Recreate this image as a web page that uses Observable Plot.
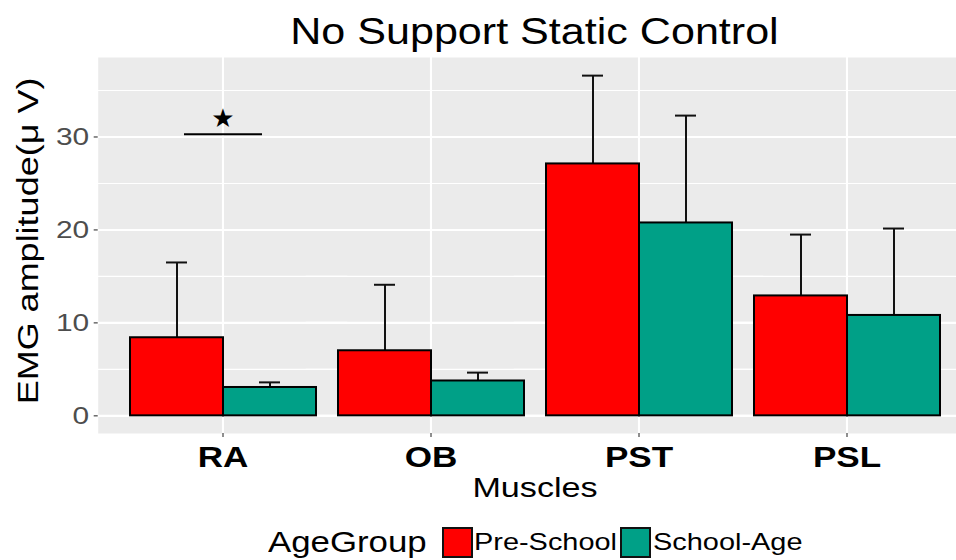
<!DOCTYPE html>
<html>
<head>
<meta charset="utf-8">
<script src="https://cdn.jsdelivr.net/npm/d3@7"></script>
<script src="https://cdn.jsdelivr.net/npm/@observablehq/plot@0.6"></script>
<style>
  body { margin: 0; background: #fff; font-family: "Liberation Sans", Arial, sans-serif; }
  #wrap { width: 956px; height: 560px; overflow: hidden; position: relative; background: #fff; }
  #title { height: 57px; box-sizing: border-box; padding-top: 13.4px; margin-left: 97px; width: 875px;
           text-align: center; font-size: 37.3px; line-height: 37.3px; color: #000; white-space: nowrap; }
  #title span { display: inline-block; transform: scaleX(1.155); transform-origin: center; }
  #chart svg { display: block; }
  #legend { height: 43px; box-sizing: border-box; padding-top: 9.7px; padding-left: 268.3px; }
  #legend .row { display: flex; align-items: center; height: 31px; white-space: nowrap; color: #000; }
  #legend .ttl { font-size: 30px; line-height: 30px; display: inline-block; }
  #legend .lab { font-size: 24.5px; line-height: 24.5px; display: inline-block; }
  #legend .key { width: 31px; height: 31px; box-sizing: border-box; border: 2px solid #111; flex: none; }
</style>
</head>
<body>
<div id="wrap">
  <div id="title"><span id="titleText"></span></div>
  <div id="chart"></div>
  <div id="legend"><div class="row" id="legendRow"></div></div>
</div>
<script>
// ---- data ----
const muscles = ["RA", "OB", "PST", "PSL"];
const ageGroups = ["Pre-School", "School-Age"];
const preSchoolMean = [8.4, 7.0, 27.1, 12.9];
const preSchoolUpper = [16.5, 14.1, 36.6, 19.5];
const schoolAgeMean = [3.05, 3.75, 20.75, 10.8];
const schoolAgeUpper = [3.6, 4.65, 32.3, 20.15];
const groupColors = ["#FF0000", "#00A087"];
const yTicks = [0, 10, 20, 30];
const yMinorTicks = [5, 15, 25, 35];
const sigMuscles = ["RA"];
const sigLineValues = [30.3];
const sigStarValues = [32];
const sigSymbol = "★";
const titleText = "No Support Static Control";
const xLabel = "Muscles";
const yLabel = "EMG amplitude(μ V)";
const legendTitle = "AgeGroup";

// ---- tables built from arrays ----
const rows = [];
muscles.forEach((m, i) => {
  rows.push({Muscle: m, AgeGroup: ageGroups[0], mean: preSchoolMean[i], upper: preSchoolUpper[i]});
  rows.push({Muscle: m, AgeGroup: ageGroups[1], mean: schoolAgeMean[i], upper: schoolAgeUpper[i]});
});
const sig = sigMuscles.map((m, i) => ({Muscle: m, from: ageGroups[0], to: ageGroups[1], lineY: sigLineValues[i], starY: sigStarValues[i]}));

document.getElementById("titleText").textContent = titleText;

// the panel extends past the outer facets by the fx outer padding
const panelExtend = -31.3;

const chart = Plot.plot({
  width: 976,
  height: 460,
  marginLeft: 97,
  marginRight: 4.3,
  marginTop: 0,
  marginBottom: 84,
  style: {maxWidth: "none", fontFamily: "'Liberation Sans', Arial, sans-serif", background: "transparent"},
  fx: {domain: muscles, paddingInner: 0.1, paddingOuter: 0.15, label: null},
  x: {domain: ageGroups, padding: 0, axis: null},
  y: {domain: [-1.9, 38.55], axis: null},
  color: {domain: ageGroups, range: groupColors},
  marks: [
    Plot.frame({facet: "super", fill: "#EBEBEB", insetLeft: panelExtend, insetRight: panelExtend}),
    Plot.ruleY(yMinorTicks, {stroke: "white", strokeWidth: 1.1, insetLeft: panelExtend, insetRight: panelExtend}),
    Plot.ruleY(yTicks, {stroke: "white", strokeWidth: 2.1, insetLeft: panelExtend, insetRight: panelExtend}),
    Plot.gridFx({stroke: "white", strokeOpacity: 1, strokeWidth: 2.1}),
    Plot.axisY(yTicks, {dx: panelExtend, tickSize: 4, tickPadding: 5, fontSize: 24.5, fill: "#4D4D4D", stroke: "#333333", strokeWidth: 1.1, label: null}),
    Plot.axisFx({anchor: "bottom", tickSize: 4, tickPadding: 8, fontSize: 30, fontWeight: "bold", fill: "#000", stroke: "#333333", strokeWidth: 1.1, label: null}),
    Plot.ruleX(rows, {fx: "Muscle", x: "AgeGroup", y1: "mean", y2: "upper", stroke: "#111", strokeWidth: 2}),
    Plot.tickY(rows, {fx: "Muscle", x: "AgeGroup", y: "upper", stroke: "#111", strokeWidth: 2, inset: 36}),
    Plot.barY(rows, {fx: "Muscle", x: "AgeGroup", y: "mean", fill: "AgeGroup", stroke: "#000", strokeWidth: 2}),
    Plot.ruleY(sig, {fx: "Muscle", x1: "from", x2: "to", y: "lineY", stroke: "#000", strokeWidth: 2, insetLeft: 54, insetRight: 54}),
    Plot.text(sig, {fx: "Muscle", y: "starY", text: () => sigSymbol, fontSize: 26, fontFamily: "DejaVu Sans", fill: "#000", lineAnchor: "middle"}),
    Plot.text([xLabel], {facet: "super", text: d => d, frameAnchor: "bottom", dy: 55, fontSize: 28, fill: "#000", textAnchor: "middle", lineAnchor: "middle"}),
    Plot.text([yLabel], {facet: "super", text: d => d, frameAnchor: "left", rotate: -90, dx: -101.1, dy: -4.5, fontSize: 30, fill: "#000", textAnchor: "middle", lineAnchor: "middle"})
  ]
});
document.getElementById("chart").appendChild(chart);

// horizontal widening of glyphs to match the reference rendering
function stretchText(t, s) {
  const tr = t.getAttribute("transform") || "";
  t.setAttribute("transform", (tr + " scale(" + s + ",1)").trim());
}
chart.querySelectorAll('g[aria-label="y-axis tick label"] text').forEach(t => stretchText(t, 1.22));
chart.querySelectorAll('g[aria-label="fx-axis tick label"] text').forEach(t => stretchText(t, 1.17));
chart.querySelectorAll("text").forEach(t => {
  if (t.textContent === xLabel) stretchText(t, 1.22);
  else if (t.textContent === yLabel) stretchText(t, 1.2);
});

// ---- legend ----
const row = document.getElementById("legendRow");
function addText(txt, cls, s, gap) {
  const el = document.createElement("span");
  el.className = cls;
  el.textContent = txt;
  row.appendChild(el);
  const w = el.getBoundingClientRect().width;
  el.style.transformOrigin = "left center";
  el.style.transform = "scaleX(" + s + ")";
  el.style.marginRight = (w * (s - 1) + gap) + "px";
}
function addKey(color, gap) {
  const k = document.createElement("span");
  k.className = "key";
  k.style.background = color;
  k.style.marginRight = gap + "px";
  row.appendChild(k);
}
addText(legendTitle, "ttl", 1.16, 15);
const gapsAfterKey = [1.5, 1.5];
const gapsAfterLabel = [3, 0];
ageGroups.forEach((g, i) => {
  addKey(groupColors[i], gapsAfterKey[i]);
  addText(g, "lab", 1.18, gapsAfterLabel[i]);
});
</script>
</body>
</html>
